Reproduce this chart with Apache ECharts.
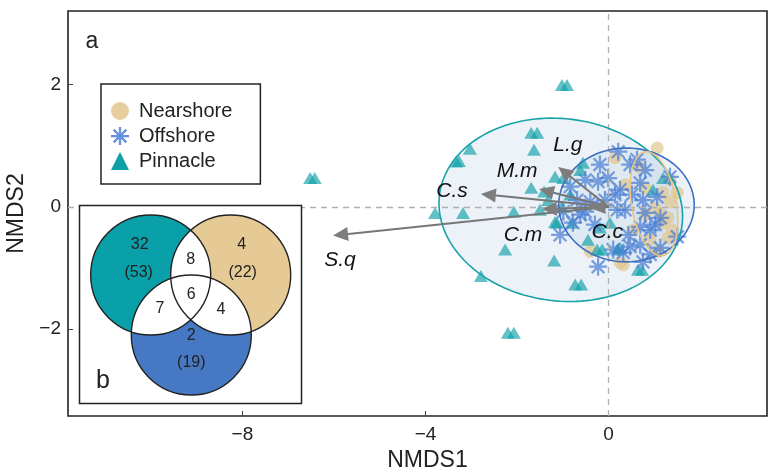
<!DOCTYPE html>
<html><head><meta charset="utf-8">
<script src="https://cdn.jsdelivr.net/npm/echarts@6/dist/echarts.min.js"></script>
<style>html,body{margin:0;padding:0;background:#fff}#c{width:769px;height:467px}</style>
</head><body><div id="c"></div>
<script>
// ---------- data ----------
const xTicks = [-8, -4, 0];
const yTicks = [-2, 0, 2];
const groupNames = ['Nearshore', 'Offshore', 'Pinnacle'];

const nearshoreX = [1.06, 0.14, 0.80, 1.19, 1.34, 1.50, 1.34, 1.02, 1.13, 1.30, 1.19, 0.54, 1.30, -0.40, 0.32, 0.80, 1.08, 0.25, 0.69, 0.91, 1.39, 0.36];
const nearshoreY = [0.96, 0.80, 0.31, 0.23, 0.08, 0.23, 0.44, -0.02, -0.10, -0.18, -0.26, -0.38, -0.51, -0.73, -0.95, -0.13, -0.73, -0.91, 0.64, -0.54, -0.38, 0.36];

const offshoreX = [0.21, 0.47, 0.62, -0.84, -0.51, -0.23, -0.01, 0.25, 0.69, -0.69, -0.40, 0.19, 0.36, 0.75, 0.80, 1.06, 1.13, -0.99, -0.78, -1.06, 0.69, 0.91, 1.02, 0.47, 0.69, 0.32, -0.23, 0.10, 0.75, 0.91, 1.50, 1.34, -0.51, -0.08, -0.30, 0.14, 0.51, 0.80, -0.19, -0.62, 0.43, 1.13];
const offshoreY = [0.90, 0.69, 0.77, 0.33, 0.44, 0.41, 0.47, 0.28, 0.39, 0.11, 0.08, -0.05, -0.05, 0.11, -0.10, 0.16, -0.18, -0.08, -0.26, -0.46, -0.33, -0.38, -0.29, -0.65, -0.62, -0.75, -0.98, -0.70, -0.90, -0.78, -0.49, 0.49, -0.08, 0.11, -0.29, 0.20, 0.20, 0.60, 0.69, -0.13, -0.46, -0.67];

const pinnacleX = [-1.02, -0.91, -6.52, -6.42, -2.20, -2.07, -1.69, -1.56, -3.03, -3.33, -3.27, -1.63, -1.17, -1.69, -3.79, -3.18, -2.07, -1.50, -1.13, -2.26, -1.19, -2.79, -0.73, -0.60, -0.99, -1.41, -0.56, -1.02, -1.17, -0.80, -0.25, -0.14, 0.19, 0.03, 1.19, 0.97, 0.25, 0.64, 0.73, -0.62, -1.32, -0.84, -0.45, -0.19];
const pinnacleY = [1.99, 1.99, 0.47, 0.47, -2.06, -2.06, 1.21, 1.21, 0.95, 0.74, 0.75, 0.93, 0.49, 0.31, -0.10, -0.10, -0.08, -0.05, -0.26, -0.70, -0.88, -1.13, -1.27, -1.27, 0.47, 0.25, 0.72, 0.00, -0.25, -0.26, -0.70, -0.70, -0.70, -0.26, 0.47, 0.28, -0.67, -1.03, -1.03, 0.60, 0.11, 0.20, -0.54, -0.34];

// ellipses (order: Pinnacle, Offshore, Nearshore): centre, semi-axes (data units), tilt (deg)
const ellipseCx = [-1.045, 0.39, 0.99];
const ellipseCy = [-0.05, 0.03, 0.05];
const ellipseA = [2.67, 1.48, 0.49];
const ellipseB = [1.49, 0.93, 0.86];
const ellipseTilt = [7, 0, -10];

// fitted species vectors
const arrowNames = ['L.g', 'M.m', 'C.s', 'S.q', 'C.m', 'C.c'];
const arrowX = [-1.10, -1.52, -2.79, -6.02, -1.46, -0.40];
const arrowY = [0.65, 0.29, 0.21, -0.47, -0.04, -0.02];
const arrowLabelX = [-0.89, -2.00, -3.42, -5.87, -1.87, -0.03];
const arrowLabelY = [1.01, 0.59, 0.25, -0.87, -0.47, -0.41];

// Venn inset (b): unique counts, totals, pairwise, triple
const vennUnique = [32, 4, 2];      // Pinnacle, Nearshore, Offshore
const vennTotal = [53, 22, 19];
const vennPairs = [8, 7, 4];        // Pin∩Near, Pin∩Off, Near∩Off
const vennTriple = 6;

// ---------- styles ----------
const FONT = '"Liberation Sans", Arial, Helvetica, sans-serif';
const cNear = '#E2C68E', cOff = '#4A7ED6', cPin = '#0E9FA7';
const ellipseColors = ['#17A3A9', '#3E6FC0', '#E8C584'];

function asteriskPath(w) {
  const h = w / 2, c = 10, d = 7.07, o = h * 0.7071;
  const seg = (x1, y1, x2, y2, px, py) =>
    `M${x1 + px} ${y1 + py}L${x2 + px} ${y2 + py}L${x2 - px} ${y2 - py}L${x1 - px} ${y1 - py}Z`;
  return 'path://' +
    seg(0, c, 20, c, 0, -h) + seg(c, 0, c, 20, h, 0) +
    seg(c - d, c - d, c + d, c + d, o, -o) + seg(c + d, c - d, c - d, c + d, o, o);
}
const ASTER = asteriskPath(2.5);

const zip = (xs, ys) => xs.map((x, i) => [x, ys[i]]);

function ellipseRender(fill) {
  return function (params, api) {
    const c = api.coord([api.value(0), api.value(1)]);
    const s = api.size([api.value(2), api.value(3)]);
    const th = api.value(4) * Math.PI / 180;
    const pts = [];
    for (let k = 0; k < 144; k++) {
      const t = k / 144 * 2 * Math.PI;
      const ex = s[0] * Math.cos(t), ey = s[1] * Math.sin(t);
      pts.push([c[0] + ex * Math.cos(th) - ey * Math.sin(th), c[1] + ex * Math.sin(th) + ey * Math.cos(th)]);
    }
    return {
      type: 'polygon', shape: { points: pts },
      style: fill ? { fill: 'rgba(198,216,230,0.33)', stroke: null }
                  : { fill: null, stroke: ellipseColors[params.dataIndex], lineWidth: 1.6 }
    };
  };
}

function arrowRender(params, api) {
  const s = api.coord([0, 0]);
  const e = api.coord([api.value(0), api.value(1)]);
  const L = api.coord([api.value(2), api.value(3)]);
  const dx = e[0] - s[0], dy = e[1] - s[1];
  const len = Math.hypot(dx, dy) || 1;
  const ux = dx / len, uy = dy / len;
  const hl = Math.min(15, len * 0.9), hw = 7;
  const bx = e[0] - ux * hl, by = e[1] - uy * hl;
  return {
    type: 'group', children: [
      { type: 'line', shape: { x1: s[0], y1: s[1], x2: bx + ux * 2, y2: by + uy * 2 }, style: { stroke: '#777', lineWidth: 2 } },
      { type: 'polygon', shape: { points: [[e[0], e[1]], [bx - uy * hw, by + ux * hw], [bx + uy * hw, by - ux * hw]] }, style: { fill: '#7d7d7d' } },
      { type: 'text', x: L[0], y: L[1], style: { text: arrowNames[params.dataIndex], font: 'italic 21px ' + FONT, fill: '#111', textAlign: 'center', textVerticalAlign: 'middle', align: 'center', verticalAlign: 'middle' } }
    ]
  };
}

// ---------- Venn inset geometry ----------
const vC = [[150.7, 275], [230.7, 275], [191.3, 335]]; // Pinnacle, Nearshore, Offshore
const vR = 60;
const vFill = ['#0AA0A9', '#E5CA95', '#4678C3'];
function lens(p1, p2, r) {
  const d = Math.hypot(p2[0] - p1[0], p2[1] - p1[1]);
  const a = Math.acos(d / (2 * r));
  const t12 = Math.atan2(p2[1] - p1[1], p2[0] - p1[0]);
  const t21 = t12 + Math.PI;
  const pts = [];
  const n = 40;
  for (let k = 0; k <= n; k++) { const t = t12 - a + 2 * a * k / n; pts.push([p1[0] + r * Math.cos(t), p1[1] + r * Math.sin(t)]); }
  for (let k = 0; k <= n; k++) { const t = t21 - a + 2 * a * k / n; pts.push([p2[0] + r * Math.cos(t), p2[1] + r * Math.sin(t)]); }
  return pts;
}
const vText = (x, y, t, size) => ({
  type: 'text', x: x, y: y, z: 104,
  style: { text: String(t), font: (size || 16) + 'px ' + FONT, fill: '#222', textAlign: 'center', textVerticalAlign: 'middle', align: 'center', verticalAlign: 'middle' }
});
const graphics = [
  { type: 'text', x: 92, y: 42, z: 100, style: { text: 'a', font: '23px ' + FONT, fill: '#222', textAlign: 'center', textVerticalAlign: 'middle', align: 'center', verticalAlign: 'middle' } },
  { type: 'rect', z: 100, shape: { x: 79.5, y: 205.5, width: 222, height: 198 }, style: { fill: '#fff', stroke: '#222', lineWidth: 1.5 } }
];
vC.forEach((c, i) => graphics.push({ type: 'circle', z: 101, shape: { cx: c[0], cy: c[1], r: vR }, style: { fill: vFill[i] } }));
[[0, 1], [0, 2], [1, 2]].forEach(p => graphics.push({ type: 'polygon', z: 102, shape: { points: lens(vC[p[0]], vC[p[1]], vR) }, style: { fill: '#fff' } }));
vC.forEach(c => graphics.push({ type: 'circle', z: 103, shape: { cx: c[0], cy: c[1], r: vR }, style: { fill: null, stroke: '#222', lineWidth: 1.4 } }));
graphics.push(
  vText(vC[0][0] - 11, vC[0][1] - 30, vennUnique[0]), vText(vC[0][0] - 12, vC[0][1] - 2, '(' + vennTotal[0] + ')'),
  vText(vC[1][0] + 11, vC[1][1] - 30, vennUnique[1]), vText(vC[1][0] + 12, vC[1][1] - 2, '(' + vennTotal[1] + ')'),
  vText(vC[2][0], vC[2][1] + 1, vennUnique[2]), vText(vC[2][0], vC[2][1] + 28, '(' + vennTotal[2] + ')'),
  vText((vC[0][0] + vC[1][0]) / 2, 260, vennPairs[0]),
  vText(160, 309, vennPairs[1]),
  vText(221, 310, vennPairs[2]),
  vText(vC[2][0], 295, vennTriple),
  vText(103, 381, 'b', 25)
);

// ---------- chart ----------
const chart = echarts.init(document.getElementById('c'), null, { renderer: 'canvas' });
const minus = v => (v < 0 ? '\u2212' + Math.abs(v) : String(v));
chart.setOption({
  animation: false,
  textStyle: { fontFamily: FONT },
  grid: { left: 68, right: 2, top: 11, bottom: 51, show: true, containLabel: false, outerBoundsMode: 'none',
    borderColor: '#222', borderWidth: 1.6, backgroundColor: 'transparent' },
  xAxis: {
    type: 'value', min: -11.81, max: 3.46,
    splitLine: { show: false }, axisLine: { show: false, onZero: false },
    axisTick: { show: true, inside: true, length: 5, lineStyle: { color: '#444' }, customValues: xTicks },
    axisLabel: { customValues: xTicks, formatter: minus, fontSize: 19, color: '#222', margin: 9, fontFamily: FONT },
    name: 'NMDS1', nameLocation: 'middle', nameGap: 28,
    nameTextStyle: { fontSize: 23, color: '#222', fontFamily: FONT, padding: [0, 0, 0, 20] }
  },
  yAxis: {
    type: 'value', min: -3.42, max: 3.2,
    splitLine: { show: false }, axisLine: { show: false, onZero: false },
    axisTick: { show: true, inside: true, length: 5, lineStyle: { color: '#444' }, customValues: yTicks },
    axisLabel: { customValues: yTicks, formatter: minus, fontSize: 19, color: '#222', margin: 7, fontFamily: FONT },
    name: 'NMDS2', nameLocation: 'middle', nameGap: 32,
    nameTextStyle: { fontSize: 23, color: '#222', fontFamily: FONT }
  },
  legend: {
    orient: 'vertical', left: 101, top: 84, z: 20,
    padding: [17, 28, 13, 10], itemWidth: 18, itemHeight: 18, itemGap: 5,
    borderColor: '#222', borderWidth: 1.5, backgroundColor: '#fff',
    textStyle: { fontSize: 20, color: '#222', fontFamily: FONT, padding: [0, 0, 0, 5] },
    data: [
      { name: 'Nearshore', itemStyle: { opacity: 0.85 } },
      { name: 'Offshore', itemStyle: { opacity: 0.85 } },
      { name: 'Pinnacle', itemStyle: { opacity: 1 } }
    ]
  },
  graphic: { elements: graphics },
  series: [
    {
      type: 'custom', name: 'ellipseFill', z: 1, silent: true, clip: false,
      renderItem: ellipseRender(true), encode: { x: 0, y: 1 },
      data: ellipseCx.map((x, i) => [x, ellipseCy[i], ellipseA[i], ellipseB[i], ellipseTilt[i]])
    },
    {
      type: 'line', name: 'zero', data: [], z: 1, silent: true,
      markLine: { silent: true, symbol: 'none', label: { show: false }, animation: false,
        lineStyle: { type: [6, 5], color: '#b0b0b0', width: 1.3 },
        data: [{ xAxis: 0 }, { yAxis: 0 }] }
    },
    { type: 'scatter', name: 'Nearshore', z: 2, symbol: 'circle', symbolSize: 13,
      itemStyle: { color: cNear, opacity: 0.7 }, data: zip(nearshoreX, nearshoreY) },
    { type: 'scatter', name: 'Pinnacle', z: 3, symbol: 'triangle', symbolSize: [14, 12],
      itemStyle: { color: cPin, opacity: 0.65 }, data: zip(pinnacleX, pinnacleY) },
    { type: 'scatter', name: 'Offshore', z: 4, symbol: ASTER, symbolSize: 18,
      itemStyle: { color: cOff, opacity: 0.72 }, data: zip(offshoreX, offshoreY) },
    {
      type: 'custom', name: 'ellipseLine', z: 5, silent: true, clip: false,
      renderItem: ellipseRender(false), encode: { x: 0, y: 1 },
      data: ellipseCx.map((x, i) => [x, ellipseCy[i], ellipseA[i], ellipseB[i], ellipseTilt[i]])
    },
    {
      type: 'custom', name: 'vectors', z: 6, silent: true, clip: false,
      renderItem: arrowRender, encode: { x: 0, y: 1 },
      data: arrowX.map((x, i) => [x, arrowY[i], arrowLabelX[i], arrowLabelY[i]])
    }
  ]
});
</script></body></html>
